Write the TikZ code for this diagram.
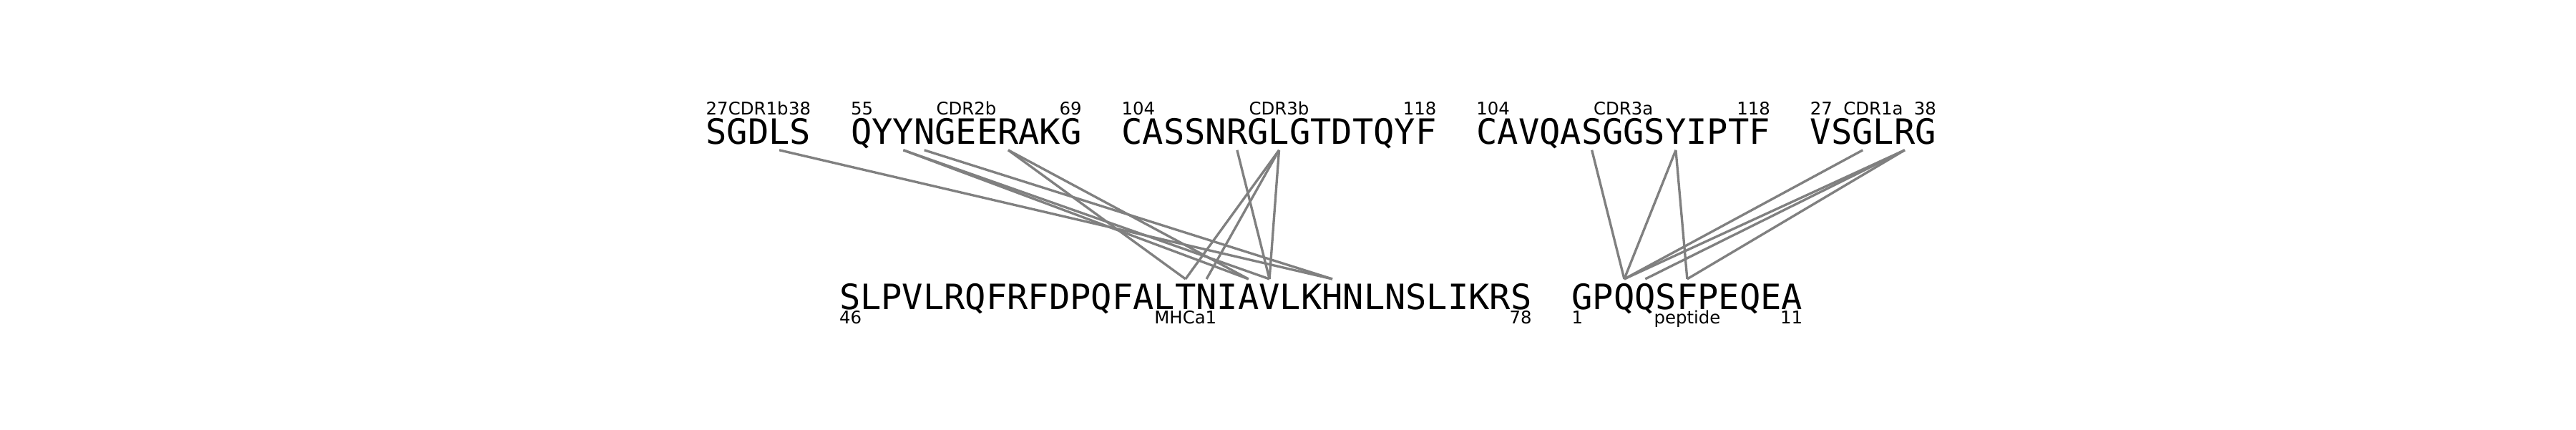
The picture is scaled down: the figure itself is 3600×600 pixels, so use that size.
\documentclass[tikz,border=0pt]{standalone}
\usepackage{fontspec}
\setmainfont{DejaVu Sans}
\newfontfamily\seqfont{DejaVu Sans Mono}
\definecolor{linkgray}{HTML}{808080}
\tikzset{
  res/.style={font=\seqfont\fontsize{13.857pt}{16pt}\selectfont, inner sep=0pt, outer sep=0pt, anchor=base},
  restop/.style={res, text height=0.36cm, text depth=0.083cm},
  resbot/.style={res, text height=0.427cm, text depth=0cm},
  lab/.style={font=\fontsize{6.93pt}{8pt}\selectfont, inner sep=0pt, outer sep=0pt},
  link/.style={draw=linkgray, line width=0.95pt},
}
\newcommand\resrow[5]{%
  \foreach \ch [count=\k from 0] in {#5} {
    \node[#2] (#1-\k) at ({#3+(\k+0.5)*29.32}, #4) {\ch};
  }%
}
\begin{document}
\begin{tikzpicture}[x=0.01cm, y=-0.01cm]
\useasboundingbox (0,0) rectangle (3600,600);

% top row (TCR loops)
\resrow{s1}{restop}{986.5}{201.5}{S,G,D,L,S}
\resrow{s2}{restop}{1189.1}{201.5}{Q,Y,Y,N,G,E,E,R,A,K,G}
\resrow{s3}{restop}{1567.6}{201.5}{C,A,S,S,N,R,G,L,G,T,D,T,Q,Y,F}
\resrow{s4}{restop}{2063.4}{201.5}{C,A,V,Q,A,S,G,G,S,Y,I,P,T,F}
\resrow{s5}{restop}{2529.9}{201.5}{V,S,G,L,R,G}

% bottom row (MHC and peptide)
\resrow{b1}{resbot}{1173}{432.7}{S,L,P,V,L,R,Q,F,R,F,D,P,Q,F,A,L,T,N,I,A,V,L,K,H,N,L,N,S,L,I,K,R,S}
\resrow{b2}{resbot}{2196.6}{432.7}{G,P,Q,Q,S,F,P,E,Q,E,A}

% top labels
\node[lab, anchor=base west] (s1-lo) at (986.5,160) {27};
\node[lab, anchor=base]      (s1-nm) at (1059.8,160) {CDR1b};
\node[lab, anchor=base east] (s1-hi) at (1133.1,160) {38};
\node[lab, anchor=base west] (s2-lo) at (1189.1,160) {55};
\node[lab, anchor=base]      (s2-nm) at (1350.4,160) {CDR2b};
\node[lab, anchor=base east] (s2-hi) at (1511.6,160) {69};
\node[lab, anchor=base west] (s3-lo) at (1567.6,160) {104};
\node[lab, anchor=base]      (s3-nm) at (1787.5,160) {CDR3b};
\node[lab, anchor=base east] (s3-hi) at (2007.4,160) {118};
\node[lab, anchor=base west] (s4-lo) at (2063.4,160) {104};
\node[lab, anchor=base]      (s4-nm) at (2268.6,160) {CDR3a};
\node[lab, anchor=base east] (s4-hi) at (2473.9,160) {118};
\node[lab, anchor=base west] (s5-lo) at (2529.9,160) {27};
\node[lab, anchor=base]      (s5-nm) at (2617.9,160) {CDR1a};
\node[lab, anchor=base east] (s5-hi) at (2705.8,160) {38};

% bottom labels
\node[lab, anchor=base west] (b1-lo) at (1173,452.7) {46};
\node[lab, anchor=base]      (b1-nm) at (1656.8,452.7) {MHCa1};
\node[lab, anchor=base east] (b1-hi) at (2140.6,452.7) {78};
\node[lab, anchor=base west] (b2-lo) at (2196.6,452.7) {1};
\node[lab, anchor=base]      (b2-nm) at (2357.9,452.7) {peptide};
\node[lab, anchor=base east] (b2-hi) at (2519.1,452.7) {11};

% contacts
\foreach \a/\b in {s1-3/b1-23, s2-2/b1-19, s2-2/b1-20, s2-3/b1-23, s2-7/b1-16, s2-7/b1-19,
                   s3-5/b1-20, s3-7/b1-16, s3-7/b1-17, s3-7/b1-20,
                   s4-5/b2-2, s4-9/b2-2, s4-9/b2-5, s5-2/b2-2, s5-4/b2-2, s5-4/b2-3, s5-4/b2-5}
  \draw[link] (\a.south) -- (\b.north);
\end{tikzpicture}
\end{document}
